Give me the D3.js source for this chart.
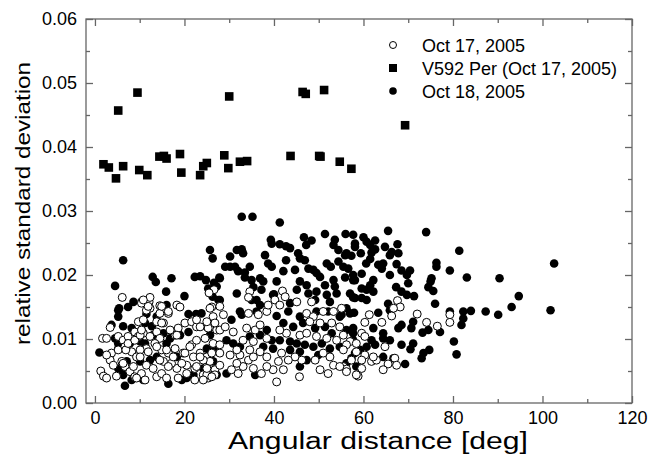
<!DOCTYPE html>
<html>
<head>
<meta charset="utf-8">
<script src="https://cdn.jsdelivr.net/npm/d3@7"></script>
<style>
  body { margin: 0; background: #fff; }
  text { font-family: "Liberation Sans", Arial, sans-serif; }
</style>
</head>
<body>
<div id="main"></div>
<script>
/* size */
const width = 651, height = 458;
const margin = {left: 86, right: 19, top: 19, bottom: 55};

/* data: [angular distance, relative std dev] */
const xTicks = [0, 20, 40, 60, 80, 100, 120];
const yTicks = [0.00, 0.01, 0.02, 0.03, 0.04, 0.05, 0.06];
const legendLabels = ["Oct 17, 2005", "V592 Per (Oct 17, 2005)", "Oct 18, 2005"];

const v592 = [
  [5.2,.0457],[9.5,.0485],[30.0,.0479],[46.4,.0486],[47.1,.0483],[51.2,.0489],[1.9,.0373],[3.1,.0368],
  [4.7,.0351],[6.3,.0370],[9.9,.0364],[11.7,.0356],[14.4,.0385],[15.4,.0386],[16.0,.0382],[19.0,.0389],
  [19.3,.0360],[23.5,.0356],[24.2,.0370],[25.0,.0375],[28.9,.0387],[29.8,.0367],[32.4,.0377],[34.0,.0378],
  [43.7,.0386],[50.1,.0386],[50.4,.0385],[54.7,.0377],[57.3,.0366],[69.3,.0434]
];

const oct18 = [
  [6.3,.0223],[4.5,.0183],[12.9,.0197],[13.6,.0189],[17.1,.0195],[15.9,.0174],[20.0,.0167],[8.6,.0158],
  [7.4,.0150],[5.4,.0148],[25.7,.0239],[26.3,.0226],[22.3,.0197],[23.5,.0198],[24.8,.0192],[26.6,.0188],
  [25.3,.0179],[26.3,.0166],[27.6,.0161],[27.8,.0196],[16.0,.0153],
  [32.8,.0291],[35.2,.0291],[41.3,.0282],[51.4,.0264],[56.0,.0264],[57.7,.0263],[46.7,.0259],[48.4,.0254],
  [47.2,.0247],[53.6,.0255],[53.3,.0247],[58.1,.0249],[39.3,.0255],[39.5,.0249],[41.3,.0248],[42.7,.0245],
  [43.6,.0242],[32.8,.0240],[31.7,.0239],[33.1,.0234],[45.4,.0234],[45.8,.0226],[46.9,.0223],[54.4,.0239],
  [56.2,.0234],[57.3,.0230],[38.0,.0231],[38.7,.0218],[39.5,.0213],[42.7,.0223],[42.1,.0206],[44.7,.0208],
  [30.2,.0229],[29.1,.0213],[30.2,.0213],[31.3,.0213],[32.0,.0206],[33.5,.0204],[34.6,.0213],[33.5,.0196],
  [35.0,.0192],[36.9,.0195],[37.6,.0190],[40.6,.0190],[47.7,.0210],[48.8,.0208],[49.5,.0203],[51.8,.0218],
  [52.7,.0213],[54.4,.0221],[55.5,.0213],[56.6,.0210],[50.3,.0197],[53.3,.0192],[55.9,.0196],[57.7,.0192],
  [45.8,.0190],[47.3,.0184],[27.9,.0195],[27.2,.0182],[27.9,.0161],[31.7,.0171],[35.4,.0181],[37.2,.0177],
  [35.0,.0161],[36.1,.0161],[36.9,.0153],[39.8,.0169],[45.1,.0177],[47.7,.0171],[49.5,.0174],[51.4,.0184],
  [51.8,.0169],[53.6,.0182],[54.0,.0171],[57.0,.0171],[58.1,.0164],[52.5,.0158],[49.2,.0161],[43.6,.0156],
  [65.5,.0269],[74.0,.0267],[60.0,.0259],[60.7,.0252],[62.6,.0254],[61.5,.0247],[58.1,.0244],[64.8,.0244],
  [67.6,.0248],[62.6,.0240],[61.8,.0235],[59.4,.0234],[55.9,.0231],[66.3,.0236],[65.9,.0231],[67.8,.0234],
  [81.4,.0238],[76.3,.0219],[76.3,.0213],[79.3,.0207],[83.1,.0196],[90.4,.0195],[61.5,.0225],[60.6,.0218],
  [63.3,.0216],[64.4,.0218],[64.1,.0210],[67.4,.0217],[65.9,.0200],[68.5,.0207],[70.4,.0207],[69.7,.0200],
  [70.0,.0187],[67.3,.0181],[68.5,.0174],[69.7,.0169],[71.3,.0167],[75.2,.0195],[75.0,.0190],[74.5,.0181],
  [75.6,.0175],[76.0,.0155],[57.7,.0200],[58.1,.0192],[59.6,.0202],[62.2,.0192],[61.5,.0184],[59.6,.0179],
  [60.7,.0177],[62.2,.0174],[57.7,.0165],[59.6,.0164],[60.7,.0161],[65.5,.0155],[56.2,.0148],
  [79.3,.0143],[82.3,.0143],[84.0,.0144],[87.3,.0143],[90.1,.0138],[82.3,.0132],[81.9,.0122],[80.2,.0096],
  [80.8,.0076],[57.0,.0140],[57.9,.0141],[63.3,.0141],[65.9,.0145],[68.5,.0122],[67.8,.0117],[70.7,.0117],
  [71.1,.0127],[73.2,.0110],[74.5,.0114],[77.1,.0111],[62.2,.0117],[64.4,.0109],[64.4,.0101],[65.9,.0098],
  [68.5,.0091],[71.1,.0093],[70.5,.0084],[73.4,.0078],[74.7,.0083],[73.0,.0070],[69.3,.0061],[66.7,.0070],
  [64.4,.0072],[57.7,.0117],[57.7,.0109],[61.8,.0098],[62.6,.0091],[60.7,.0088],[59.2,.0083],[58.1,.0078],
  [57.3,.0070],[55.1,.0138],
  [102.6,.0218],[94.7,.0167],[93.1,.0150],[101.8,.0145],
  [5.2,.0135],[11.5,.0139],[20.9,.0139],[22.6,.0139],[23.8,.0140],[3.7,.0122],[6.3,.0120],[11.2,.0125],
  [12.7,.0120],[10.4,.0114],[4.5,.0101],[5.2,.0093],[1.0,.0079],[7.8,.0093],[10.1,.0096],[11.2,.0093],
  [16.0,.0093],[16.8,.0101],[19.0,.0106],[20.9,.0111],[25.0,.0119],[26.4,.0127],[25.7,.0106],[26.8,.0088],
  [18.3,.0072],[13.8,.0072],[12.3,.0067],[10.1,.0065],[7.1,.0065],[5.6,.0052],[6.3,.0044],[8.2,.0036],
  [6.7,.0027],[10.8,.0036],[16.4,.0030],[20.5,.0039],[22.0,.0044],[25.0,.0046],[27.2,.0044],[26.4,.0065],
  [40.0,.0170],[32.4,.0143],[32.8,.0138],[36.1,.0143],[40.6,.0136],[30.5,.0130],[43.2,.0143],[45.8,.0135],
  [49.5,.0143],[52.1,.0143],[54.7,.0135],[42.1,.0125],[44.3,.0119],[46.5,.0125],[49.2,.0117],[51.4,.0119],
  [52.9,.0109],[56.2,.0114],[38.4,.0114],[36.9,.0106],[34.6,.0104],[39.5,.0098],[41.3,.0098],[43.6,.0096],
  [45.1,.0093],[46.9,.0091],[48.8,.0088],[50.7,.0093],[52.5,.0085],[54.7,.0088],[57.7,.0098],[43.6,.0083],
  [45.8,.0080],[39.8,.0085],[37.6,.0088],[32.4,.0088],[30.9,.0093],[29.4,.0098],[25.0,.0085],[24.2,.0054],
  [29.4,.0046],[35.8,.0044],[45.8,.0057],[47.3,.0067],[56.2,.0062],[58.4,.0057],[49.9,.0075],
  [5.2,.0145],[13.8,.0135],[8.2,.0117],[5.2,.0085],[13.0,.0106],[15.3,.0109],[5.2,.0054],[19.4,.0036]
];

const oct17 = [
  [6.1,.0165],[10.4,.0158],[12.1,.0158],[12.3,.0165],[14.5,.0152],[18.3,.0153],[19.0,.0150],[26.6,.0177],
  [25.5,.0172],[26.1,.0150],[34.6,.0174],[34.3,.0165],[41.9,.0175],[42.5,.0166],[40.2,.0161],[41.3,.0153],
  [45.1,.0158],[48.4,.0158],[67.6,.0160],[68.2,.0150],[66.7,.0148],
  [66.3,.0136],[72.0,.0139],[74.1,.0126],[76.5,.0120],[79.3,.0138],[79.3,.0126],[55.1,.0148],[61.3,.0138],
  [60.3,.0126],[64.1,.0126],[59.6,.0109],[60.3,.0104],[55.5,.0106],[57.0,.0096],[56.2,.0091],[55.5,.0083],
  [60.3,.0075],[61.8,.0065],[62.9,.0067],[62.2,.0072],[59.6,.0067],[64.8,.0088],[67.0,.0070],[67.4,.0059],
  [65.5,.0061],[64.4,.0052],[59.6,.0054],[58.8,.0042],[55.5,.0057],[56.2,.0053],
  [3.4,.0118],[1.7,.0101],[2.6,.0101],[1.3,.0050],[1.9,.0042],[2.6,.0039],[3.7,.0078],[5.2,.0083],
  [4.8,.0042],[6.0,.0065],[6.7,.0057],[8.2,.0080],[9.3,.0072],[7.8,.0049],[8.9,.0041],[10.4,.0046],
  [11.5,.0059],[13.0,.0054],[13.8,.0041],[14.9,.0046],[16.0,.0039],[18.6,.0039],[18.3,.0054],[17.1,.0062],
  [15.3,.0065],[20.5,.0059],[22.3,.0054],[24.2,.0044],[25.3,.0039],[22.3,.0036],[25.0,.0057],[26.8,.0052],
  [5.2,.0104],[6.3,.0098],[7.4,.0104],[8.9,.0111],[9.7,.0104],[10.8,.0109],[12.3,.0104],[13.8,.0111],
  [14.5,.0101],[13.4,.0093],[11.5,.0085],[10.1,.0083],[6.7,.0088],[14.9,.0083],[16.4,.0078],[17.9,.0085],
  [19.7,.0078],[21.6,.0091],[22.7,.0098],[22.0,.0072],[23.5,.0078],[25.0,.0072],[26.1,.0078],[20.1,.0125],
  [21.6,.0127],[22.7,.0119],[18.6,.0117],[17.9,.0106],[14.5,.0140],[16.4,.0140],[13.8,.0127],[15.3,.0125],
  [9.7,.0127],[12.3,.0148],[11.5,.0145],[26.4,.0135],[26.1,.0119],[27.2,.0114],[3.4,.0067],[4.1,.0059],
  [2.6,.0075],
  [28.7,.0138],[26.8,.0125],[25.3,.0117],[27.9,.0114],[29.1,.0119],[30.9,.0111],[33.9,.0117],[35.8,.0114],
  [36.9,.0122],[34.3,.0140],[36.5,.0138],[38.4,.0143],[38.7,.0153],[47.3,.0140],[48.8,.0135],[51.0,.0143],
  [53.3,.0143],[48.0,.0127],[50.3,.0125],[52.9,.0125],[54.7,.0119],[58.4,.0093],[58.4,.0080],[52.5,.0072],
  [51.0,.0078],[53.3,.0059],[54.7,.0057],[50.3,.0052],[52.1,.0046],[49.2,.0067],[46.2,.0067],[44.7,.0072],
  [43.2,.0067],[41.7,.0078],[41.0,.0065],[42.1,.0052],[39.8,.0052],[38.4,.0057],[37.2,.0046],[35.4,.0054],
  [34.3,.0067],[33.1,.0057],[31.7,.0062],[30.5,.0052],[32.0,.0046],[27.9,.0059],[26.8,.0044],[25.0,.0044],
  [25.7,.0065],[24.2,.0067],[27.9,.0078],[30.2,.0075],[32.4,.0075],[35.4,.0072],[36.9,.0080],[38.4,.0072],
  [24.6,.0101],[26.4,.0093],[27.9,.0091],[31.7,.0083],[34.6,.0083],[33.1,.0098],[35.4,.0096],[38.4,.0101],
  [40.6,.0033],[45.7,.0041],[42.8,.0109],[45.8,.0106],[41.3,.0114],[47.3,.0109],[49.5,.0104],[51.8,.0101],
  [54.0,.0098],[27.9,.0151],[57.3,.0067],[56.2,.0049],[58.4,.0044],
  [6.3,.0062],[6.9,.0083],[7.4,.0093],[8.9,.0098],[10.1,.0106],[10.4,.0114],[10.8,.0130],[10.4,.0156],
  [11.9,.0151],[10.8,.0161],[14.9,.0151],[16.4,.0143],[14.9,.0125],[16.8,.0114],[18.3,.0106],[22.7,.0130],
  [23.5,.0119],[25.0,.0127],[25.7,.0148],[21.2,.0088],[20.1,.0078],[23.5,.0072],[22.7,.0057],[20.5,.0046],
  [16.4,.0057],[14.5,.0067],[11.2,.0036],[9.3,.0039],[8.6,.0057],[10.1,.0072],[11.9,.0080],[13.8,.0088],
  [16.0,.0083],[17.5,.0072],[19.4,.0062],[25.0,.0054],[26.1,.0041],[24.2,.0036]
];

/* scales */
const x = d3.scaleLinear().domain([-2, 120]).range([margin.left, width - margin.right]);
const y = d3.scaleLinear().domain([0, 0.06]).range([height - margin.bottom, margin.top]);

const svg = d3.select("#main").append("svg").attr("width", width).attr("height", height);

const axisColor = "#666";
const x0 = x.range()[0], x1 = x.range()[1], y0 = y.range()[0], y1 = y.range()[1];

/* frame */
svg.append("rect")
  .attr("x", x0).attr("y", y1).attr("width", x1 - x0).attr("height", y0 - y1)
  .attr("fill", "none").attr("stroke", axisColor).attr("stroke-width", 1.3);

const xMinor = d3.range(10, 120, 20);
const yMinor = d3.range(0.005, 0.06, 0.01);

function styleAxis(g) {
  g.select(".domain").remove();
  g.selectAll(".tick line").attr("stroke", axisColor).attr("stroke-width", 1.3);
  g.selectAll(".tick text").attr("fill", "#000").style("font-size", "18px")
    .style("font-family", "'Liberation Sans', Arial, sans-serif");
}

// bottom + top
svg.append("g").attr("transform", `translate(0,${y0})`)
  .call(d3.axisBottom(x).tickValues(xTicks).tickSize(-7).tickPadding(8).tickFormat(d3.format("d")))
  .call(styleAxis);
svg.append("g").attr("transform", `translate(0,${y0})`)
  .call(d3.axisBottom(x).tickValues(xMinor).tickSize(-4).tickFormat(""))
  .call(styleAxis);
svg.append("g").attr("transform", `translate(0,${y1})`)
  .call(d3.axisTop(x).tickValues(xTicks).tickSize(-7).tickFormat(""))
  .call(styleAxis);
svg.append("g").attr("transform", `translate(0,${y1})`)
  .call(d3.axisTop(x).tickValues(xMinor).tickSize(-4).tickFormat(""))
  .call(styleAxis);

// left + right
svg.append("g").attr("transform", `translate(${x0},0)`)
  .call(d3.axisLeft(y).tickValues(yTicks).tickSize(-7).tickPadding(9).tickFormat(d3.format(".2f")))
  .call(styleAxis);
svg.append("g").attr("transform", `translate(${x0},0)`)
  .call(d3.axisLeft(y).tickValues(yMinor).tickSize(-4).tickFormat(""))
  .call(styleAxis);
svg.append("g").attr("transform", `translate(${x1},0)`)
  .call(d3.axisRight(y).tickValues(yTicks).tickSize(-7).tickFormat(""))
  .call(styleAxis);
svg.append("g").attr("transform", `translate(${x1},0)`)
  .call(d3.axisRight(y).tickValues(yMinor).tickSize(-4).tickFormat(""))
  .call(styleAxis);

/* axis titles (stretched to the reference extents) */
svg.append("text")
  .attr("x", 228).attr("y", 449)
  .attr("textLength", 300).attr("lengthAdjust", "spacingAndGlyphs")
  .style("font-size", "23px")
  .text("Angular distance [deg]");

svg.append("text")
  .attr("transform", "translate(30,345) rotate(-90)")
  .attr("textLength", 283).attr("lengthAdjust", "spacingAndGlyphs")
  .style("font-size", "20px")
  .text("relative standard deviation");

/* points */
const plot = svg.append("g");

plot.selectAll(".f18").data(oct18).enter().append("circle")
  .attr("cx", d => x(d[0])).attr("cy", d => y(d[1])).attr("r", 4.3)
  .attr("fill", "#000");

plot.selectAll(".o17").data(oct17).enter().append("circle")
  .attr("cx", d => x(d[0])).attr("cy", d => y(d[1])).attr("r", 4)
  .attr("fill", "#fff").attr("stroke", "#000").attr("stroke-width", 1);

plot.selectAll(".sq").data(v592).enter().append("rect")
  .attr("x", d => x(d[0]) - 4.3).attr("y", d => y(d[1]) - 4.3)
  .attr("width", 8.6).attr("height", 8.6)
  .attr("fill", "#000");

/* legend */
const leg = svg.append("g");
const rows = [45, 68, 91];
leg.append("circle").attr("cx", 393).attr("cy", rows[0]).attr("r", 3.5)
  .attr("fill", "#fff").attr("stroke", "#000").attr("stroke-width", 1);
leg.append("rect").attr("x", 389).attr("y", rows[1] - 4).attr("width", 8).attr("height", 8)
  .attr("fill", "#000");
leg.append("circle").attr("cx", 393).attr("cy", rows[2]).attr("r", 3.8).attr("fill", "#000");

leg.selectAll(".lt").data(legendLabels).enter().append("text")
  .attr("x", 422).attr("y", (d, i) => rows[i] + 7)
  .style("font-size", "18px")
  .text(d => d);
</script>
</body>
</html>
